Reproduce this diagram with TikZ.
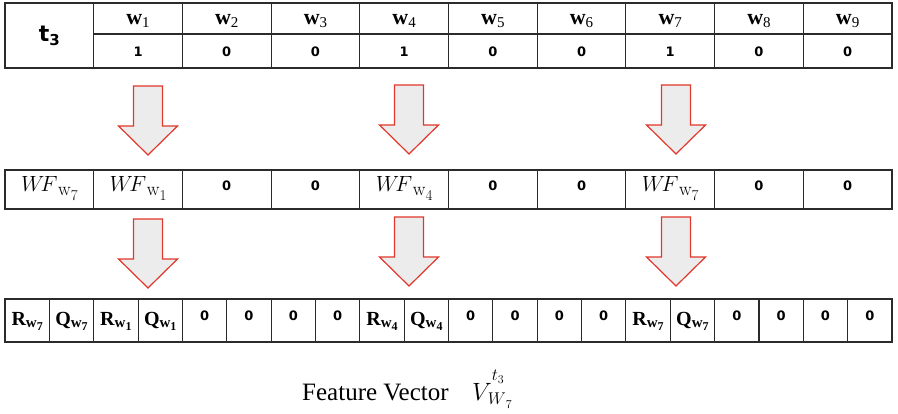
\RequirePackage{fix-cm}
\documentclass[tikz,border=0pt]{standalone}
\usepackage{fontspec}
\newfontfamily\sansbold{DejaVu Sans}
\newfontfamily\capfont{Liberation Serif}
\newfontfamily\bserif{Liberation Serif}

\definecolor{gridline}{HTML}{2B2B2B}
\definecolor{arrowred}{HTML}{E2372C}
\definecolor{arrowfill}{HTML}{EBECEB}

% word label w_i in the header
\newcommand{\wlab}[1]{{\bserif\bfseries\fontsize{22}{26}\selectfont w}\raisebox{-3pt}{\bserif\fontsize{15}{18}\selectfont #1}}
% weighted-frequency label WF_{w_i}
\newcommand{\wflab}[1]{{\fontsize{22}{26}\selectfont$W\!F$}\kern0.5pt\raisebox{-4pt}{\fontsize{19}{22}\selectfont w\raisebox{-4.5pt}{\fontsize{15}{18}\selectfont #1}}}
% R / Q components with subscript w_i
\newcommand{\rqlab}[2]{{\bserif\bfseries\fontsize{20}{24}\selectfont #1}\raisebox{-2pt}{\bserif\bfseries\fontsize{15}{18}\selectfont w\raisebox{-2.5pt}{\fontsize{12}{14}\selectfont #2}}}

\tikzset{
  cell/.style={draw=gridline, line width=1.1pt, inner sep=0pt, anchor=center},
  numtext/.style={font=\sansbold\bfseries\fontsize{13}{15}\selectfont},
  headcell/.style={cell, minimum width=88.7pt, minimum height=31pt,
    text height=13pt, text depth=0pt},
  valcell/.style={cell, numtext, minimum width=88.7pt, minimum height=34pt,
    text height=12pt, text depth=0pt},
  wfcell/.style={cell, minimum width=88.7pt, minimum height=39pt,
    text height=15pt, text depth=10pt},
  wfzero/.style={wfcell, numtext, text height=9.5pt, text depth=8pt},
  rqcell/.style={cell, minimum width=44.35pt, minimum height=43pt,
    text height=16pt, text depth=5pt},
  rqzero/.style={rqcell, numtext, text height=9.5pt, text depth=10pt},
  blockarrow/.pic={
    \draw[draw=arrowred, fill=arrowfill, line width=1.2pt, line join=miter]
      (-14.5,0) -- (14.5,0) -- (14.5,40) -- (29.5,40) -- (0,69)
      -- (-29.5,40) -- (-14.5,40) -- cycle;
  }
}

\begin{document}
\begin{tikzpicture}[x=1pt, y=-1pt]
  \useasboundingbox (0,0) rectangle (898,414);

  % term header table
  \node[cell, minimum width=88.7pt, minimum height=65pt,
        font=\sansbold\bfseries\fontsize{22}{26}\selectfont,
        text height=17pt, text depth=4pt]
    (t3) at (49.35,35.5) {t\raisebox{-4pt}{\fontsize{15}{18}\selectfont 3}};
  \foreach \i/\v in {1/1,2/0,3/0,4/1,5/0,6/0,7/1,8/0,9/0} {
    \node[headcell] (w\i) at ({5+88.7*\i+44.35},18.5) {\wlab{\i}};
    \node[valcell] (v\i) at ({5+88.7*\i+44.35},51) {\v};
  }

  % word-feature row
  \foreach \i/\t/\s in {0/{\wflab{7}}/wfcell,
                        1/{\wflab{1}}/wfcell,
                        2/0/wfzero, 3/0/wfzero,
                        4/{\wflab{4}}/wfcell,
                        5/0/wfzero, 6/0/wfzero,
                        7/{\wflab{7}}/wfcell,
                        8/0/wfzero, 9/0/wfzero} {
    \node[\s] (f\i) at ({5+88.7*\i+44.35},189.5) {\t};
  }

  % feature vector row
  \foreach \k/\t/\s in {0/{\rqlab{R}{7}}/rqcell,
                        1/{\rqlab{Q}{7}}/rqcell,
                        2/{\rqlab{R}{1}}/rqcell,
                        3/{\rqlab{Q}{1}}/rqcell,
                        4/0/rqzero, 5/0/rqzero, 6/0/rqzero, 7/0/rqzero,
                        8/{\rqlab{R}{4}}/rqcell,
                        9/{\rqlab{Q}{4}}/rqcell,
                        10/0/rqzero, 11/0/rqzero, 12/0/rqzero, 13/0/rqzero,
                        14/{\rqlab{R}{7}}/rqcell,
                        15/{\rqlab{Q}{7}}/rqcell,
                        16/0/rqzero, 17/0/rqzero, 18/0/rqzero, 19/0/rqzero} {
    \node[\s] (r\k) at ({5+44.35*\k+22.175},320.5) {\t};
  }

  % block arrows
  \pic (ta1) at (148,86) {blockarrow};
  \pic (ta4) at (409,85) {blockarrow};
  \pic (ta7) at (676,85) {blockarrow};
  \pic (ba1) at (148,219) {blockarrow};
  \pic (ba4) at (409,217) {blockarrow};
  \pic (ba7) at (676,217) {blockarrow};

  % caption
  \node[anchor=base west, inner sep=0pt,
        font=\capfont\fontsize{25}{30}\selectfont] (cap) at (302,400) {Feature Vector};
  \node[anchor=base west, inner sep=0pt, font=\fontsize{25}{30}\selectfont]
    (vec) at (472,400)
    {$V$\rlap{\raisebox{20pt}{\fontsize{17}{20}\selectfont$t$\raisebox{-3pt}{\fontsize{12}{14}\selectfont 3}}}%
     \kern-4pt\raisebox{-5pt}{\fontsize{17}{20}\selectfont$W$\raisebox{-3pt}{\fontsize{12}{14}\selectfont 7}}};
\end{tikzpicture}
\end{document}
